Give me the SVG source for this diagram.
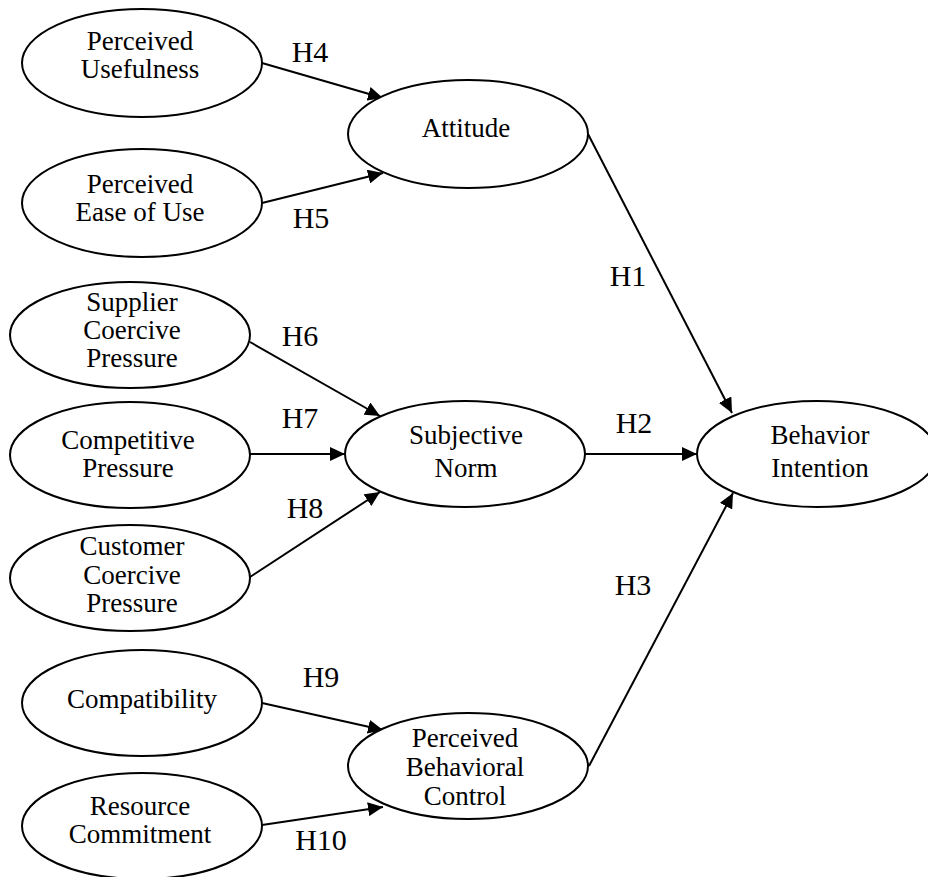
<svg xmlns="http://www.w3.org/2000/svg" width="928" height="877" viewBox="0 0 928 877">
<style>
.n ellipse{fill:#fff;stroke:#000;stroke-width:2}
.n text{font-family:"Liberation Serif","Times New Roman",serif;font-size:27px;fill:#000;text-anchor:middle}
.lbl{font-family:"Liberation Serif","Times New Roman",serif;font-size:30px;fill:#000;text-anchor:middle}
#edges line{stroke:#000;stroke-width:2;marker-end:url(#ah)}
</style>
<defs>
<marker id="ah" markerUnits="userSpaceOnUse" markerWidth="16" markerHeight="14" refX="15" refY="7" orient="auto">
<path d="M0,0 L15,7 L0,14 Z" fill="#000"/>
</marker>
</defs>
<rect width="928" height="877" fill="#fff"/>
<g id="edges">
<line x1="262" y1="63" x2="383" y2="98"/>
<line x1="262" y1="203" x2="383" y2="173"/>
<line x1="250" y1="342" x2="380" y2="416"/>
<line x1="250" y1="454" x2="345" y2="454"/>
<line x1="250" y1="577" x2="380" y2="492"/>
<line x1="262" y1="703" x2="383" y2="730"/>
<line x1="262" y1="825" x2="383" y2="807"/>
<line x1="588" y1="134" x2="732" y2="413"/>
<line x1="585" y1="454" x2="697" y2="454"/>
<line x1="589" y1="766" x2="733" y2="493"/>
</g>
<g id="labels">
<text class="lbl" x="310" y="62">H4</text>
<text class="lbl" x="311" y="228">H5</text>
<text class="lbl" x="300" y="346">H6</text>
<text class="lbl" x="300" y="428">H7</text>
<text class="lbl" x="305" y="518">H8</text>
<text class="lbl" x="321" y="687">H9</text>
<text class="lbl" x="321" y="850">H10</text>
<text class="lbl" x="628" y="286">H1</text>
<text class="lbl" x="634" y="433">H2</text>
<text class="lbl" x="633" y="595">H3</text>
</g>
<g id="pu" class="n"><ellipse cx="142" cy="63" rx="120" ry="54"/><text x="140" y="50">Perceived</text><text x="140" y="78">Usefulness</text></g>
<g id="peu" class="n"><ellipse cx="142" cy="203" rx="120" ry="54"/><text x="140" y="193">Perceived</text><text x="140" y="221">Ease of Use</text></g>
<g id="att" class="n"><ellipse cx="468" cy="134" rx="120" ry="54"/><text x="466" y="137">Attitude</text></g>
<g id="scp" class="n"><ellipse cx="130" cy="335" rx="120" ry="53"/><text x="132" y="311">Supplier</text><text x="132" y="339">Coercive</text><text x="132" y="367">Pressure</text></g>
<g id="cp" class="n"><ellipse cx="130" cy="455" rx="120" ry="53"/><text x="128" y="449">Competitive</text><text x="128" y="477">Pressure</text></g>
<g id="ccp" class="n"><ellipse cx="130" cy="578" rx="120" ry="53"/><text x="132" y="555">Customer</text><text x="132" y="584">Coercive</text><text x="132" y="612">Pressure</text></g>
<g id="sn" class="n"><ellipse cx="465" cy="454" rx="120" ry="53"/><text x="466" y="444">Subjective</text><text x="466" y="477">Norm</text></g>
<g id="bi" class="n"><ellipse cx="817" cy="454" rx="120" ry="53"/><text x="820" y="444">Behavior</text><text x="820" y="477">Intention</text></g>
<g id="comp" class="n"><ellipse cx="142" cy="703" rx="120" ry="53"/><text x="142" y="708">Compatibility</text></g>
<g id="rc" class="n"><ellipse cx="142" cy="826" rx="120" ry="53"/><text x="140" y="815">Resource</text><text x="140" y="843">Commitment</text></g>
<g id="pbc" class="n"><ellipse cx="468" cy="766" rx="120" ry="53"/><text x="465" y="747">Perceived</text><text x="465" y="776">Behavioral</text><text x="465" y="805">Control</text></g>
</svg>
